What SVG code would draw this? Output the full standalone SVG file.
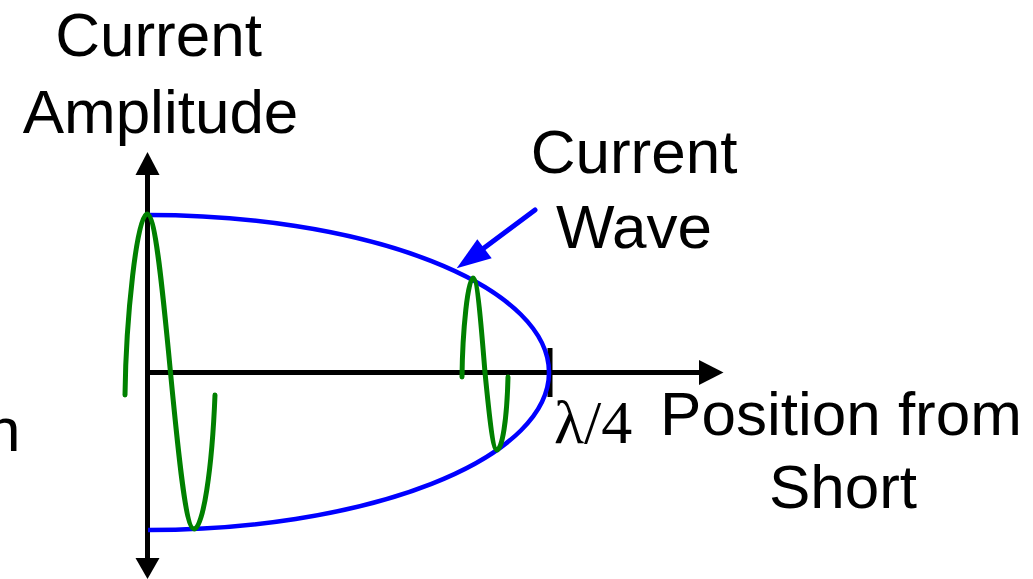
<svg xmlns="http://www.w3.org/2000/svg" width="1033" height="579" viewBox="0 0 1033 579">
  <style>
    .lbl { font-family: "Liberation Sans", Arial, sans-serif; font-size: 62px; fill: #000; }
    .sym { font-family: "Liberation Serif", "Times New Roman", serif; font-size: 62px; fill: #000; }
    .axis { stroke: #000; stroke-width: 5; fill: none; }
    .env { stroke: #0000FF; stroke-width: 4.5; fill: none; }
    .wave { stroke: #008000; stroke-width: 5; fill: none; stroke-linecap: round; stroke-linejoin: round; }
  </style>
  <rect width="1033" height="579" fill="#fff"/>

  <g id="axes">
    <line class="axis" x1="147.5" y1="172" x2="147.5" y2="561"/>
    <polygon points="147.5,152 135.5,175 159.5,175" fill="#000"/>
    <polygon points="147.5,579 135.5,558 159.5,558" fill="#000"/>
    <line class="axis" x1="147" y1="372.5" x2="702" y2="372.5"/>
    <polygon points="723.5,372.5 699,360 699,385" fill="#000"/>
    <line x1="550" y1="348" x2="550" y2="397" stroke="#000" stroke-width="5"/>
  </g>

  <g id="envelope">
    <path class="env" d="M148,215 A401,157.5 0 0 1 549,372.5 A401,157.5 0 0 1 148,530"/>
  </g>

  <g id="wave-near-short">
    <path class="wave" d="M125,395 C126,318 137,214 147,214 C155.5,214 162.8,291 170.5,372.5 C178.2,452.4 185.5,529 194,529 C203,529 212,470 215,395"/>
  </g>

  <g id="wave-near-quarter">
    <path class="wave" d="M462,377 C462.5,330 468,278 473,278 C477.3,278 481.1,323.8 485,372.5 C488.9,412 492.7,450 497,450 C502,450 507,420 508,377"/>
  </g>

  <g id="connectors">
    <line x1="535" y1="210" x2="480" y2="251" stroke="#0000FF" stroke-width="5" stroke-linecap="round"/>
    <polygon points="456.7,268.3 477.3,239.3 491.7,258.3" fill="#0000FF"/>
  </g>

  <g id="label-y-axis">
    <text class="lbl" x="158.5" y="56" text-anchor="middle">Current</text>
    <text class="lbl" x="160.5" y="133" text-anchor="middle">Amplitude</text>
  </g>

  <g id="label-current-wave">
    <text class="lbl" x="634" y="173" text-anchor="middle">Current</text>
    <text class="lbl" x="634" y="248" text-anchor="middle">Wave</text>
  </g>

  <g id="label-x-axis">
    <text class="lbl" x="841" y="435" text-anchor="middle">Position from</text>
    <text class="lbl" x="843" y="508" text-anchor="middle">Short</text>
  </g>

  <g id="label-quarter-wave">
    <text class="sym" x="554" y="443">λ/4</text>
  </g>

  <g id="label-cut-left">
    <text class="lbl" x="-14" y="451">n</text>
  </g>
</svg>
